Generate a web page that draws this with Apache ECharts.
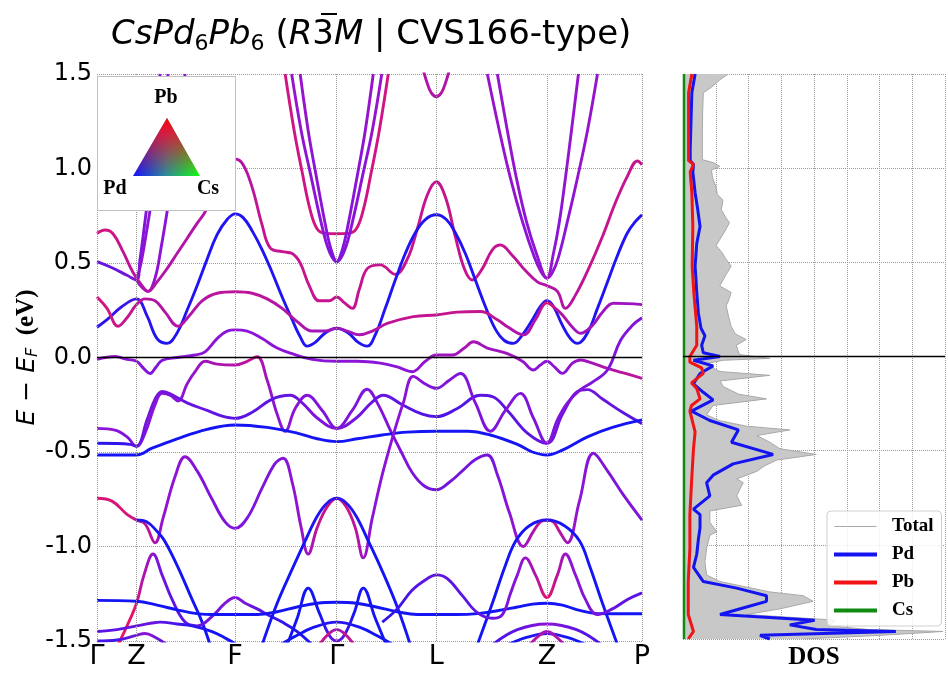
<!DOCTYPE html>
<html><head><meta charset="utf-8">
<script src="https://cdn.jsdelivr.net/npm/echarts@6/dist/echarts.min.js"></script>
<style>html,body{margin:0;padding:0;background:#fff}#c{width:948px;height:675px}</style>
</head><body><div id="c"></div>
<script>
// ---- k-path (distance along path) and labels ----
const kTicks = [0, 39.5, 138, 239.5, 339, 449.5, 544.5];
const kLabels = ['Γ', 'Z', 'F', 'Γ', 'L', 'Z', 'P'];
const eTicks = [-1.5, -1.0, -0.5, 0.0, 0.5, 1.0, 1.5];
const eTickLabels = ['-1.5', '-1.0', '-0.5', '0.0', '0.5', '1.0', '1.5'];
const dosTicks = [0, 1, 2, 3, 4, 5, 6, 7, 8];

// ---- bands: [k, E (eV), Pb weight 0=Pd(blue) .. 1=Pb(red)] ----
const bandZB = [[0,0.507,.35],[15,0.475,.35],[30,0.435,.4],[39.5,0.41,.45],[43,0.52,.45],[47,0.68,.45],[52,0.9,.45],[57,1.15,.45],[63,1.5,.45]];
const bandZC = [[39.5,0.41,.5],[44,0.50,.5],[49,0.65,.5],[55,0.85,.5],[61,1.1,.5],[67,1.35,.5],[71,1.5,.5]];
const bandZE = [[39.5,0.41,.55],[45,0.37,.6],[51,0.35,.6],[58,0.42,.55],[64,0.58,.5],[70,0.77,.5],[76,0.98,.5],[82,1.22,.5],[88,1.5,.5]];
const bandFpeak = [[0,0.657,.85],[8,0.675,.85],[16,0.655,.85],[26,0.56,.8],[36,0.45,.75],[45,0.38,.7],[51,0.35,.7],[60,0.40,.7],[70,0.47,.7],[80,0.55,.7],[90,0.63,.7],[100,0.71,.7],[108,0.77,.7],[118,0.90,.7],[128,1.0,.7],[138,1.05,.7],[146,1.02,.7],[155,0.90,.75],[165,0.70,.8],[173,0.58,.8],[185,0.56,.8],[195,0.55,.8],[203,0.50,.8],[212,0.38,.8],[222,0.30,.8],[232,0.30,.8],[239.5,0.32,.8],[247,0.29,.8],[255,0.26,.8],[262,0.36,.8],[270,0.47,.8],[283,0.49,.8],[298,0.44,.8],[310,0.52,.8],[320,0.68,.8],[330,0.86,.8],[339,0.93,.8],[348,0.85,.8],[358,0.64,.8],[367,0.47,.8],[375,0.41,.8],[385,0.47,.8],[395,0.57,.8],[403,0.595,.8],[415,0.54,.75],[428,0.46,.75],[440,0.40,.7],[449.5,0.38,.7],[460,0.35,.7],[468,0.26,.7],[478,0.33,.75],[492,0.48,.8],[505,0.64,.8],[518,0.82,.8],[530,0.96,.8],[540,1.04,.8],[544.5,1.02,.8]];
const bandBlueTop = [[0,0.16,.1],[10,0.20,.1],[25,0.27,.15],[39.5,0.31,.2],[50,0.22,.1],[60,0.10,.05],[70,0.075,.05],[80,0.13,.05],[90,0.25,.05],[100,0.38,.05],[110,0.52,.05],[120,0.65,.05],[130,0.73,.05],[138,0.76,.05],[146,0.74,.05],[155,0.67,.05],[165,0.57,.05],[175,0.45,.05],[185,0.32,.05],[195,0.20,.05],[203,0.11,.05],[210,0.06,.05],[218,0.08,.05],[228,0.13,.05],[239.5,0.155,.05],[251,0.13,.05],[261,0.08,.05],[270,0.06,.05],[278,0.12,.05],[288,0.26,.05],[298,0.41,.05],[308,0.55,.05],[318,0.66,.05],[328,0.73,.05],[339,0.755,.05],[349,0.73,.05],[358,0.66,.05],[368,0.55,.05],[378,0.41,.05],[388,0.27,.05],[398,0.15,.05],[407,0.09,.05],[416,0.075,.05],[425,0.12,.05],[435,0.20,.05],[443,0.27,.1],[449.5,0.30,.1],[456,0.27,.1],[465,0.17,.05],[473,0.10,.05],[480,0.075,.05],[490,0.13,.05],[500,0.26,.05],[510,0.40,.05],[520,0.54,.05],[530,0.66,.05],[538,0.72,.05],[544.5,0.755,.05]];
const bandPinkMid = [[0,0.32,.85],[10,0.26,.85],[21,0.165,.85],[30,0.21,.8],[39.5,0.28,.8],[48,0.31,.75],[58,0.30,.7],[68,0.24,.7],[81,0.165,.7],[92,0.22,.7],[105,0.30,.7],[120,0.34,.75],[138,0.348,.75],[155,0.34,.75],[170,0.31,.75],[185,0.26,.7],[200,0.19,.7],[215,0.14,.65],[228,0.14,.6],[239.5,0.155,.6],[250,0.14,.6],[262,0.12,.65],[275,0.14,.7],[290,0.18,.75],[316,0.216,.8],[339,0.225,.8],[360,0.24,.8],[383,0.243,.8],[400,0.20,.75],[410,0.163,.7],[426,0.12,.65],[438,0.20,.7],[449.5,0.29,.9],[458,0.26,.75],[465,0.225,.7],[475,0.16,.6],[483,0.128,.6],[495,0.17,.6],[505,0.24,.6],[516,0.287,.6],[530,0.285,.6],[544.5,0.28,.6]];
const bandFermi = [[0,-0.01,.55],[18,0.005,.55],[30,-0.01,.5],[39.5,-0.02,.5],[47,-0.06,.45],[53,-0.085,.45],[59,-0.05,.45],[65,-0.015,.45],[80,0.0,.5],[98,0.013,.5],[108,0.03,.5],[120,0.10,.5],[130,0.14,.5],[138,0.146,.5],[150,0.14,.5],[165,0.10,.5],[180,0.05,.5],[195,0.02,.5],[215,-0.01,.5],[239.5,-0.02,.5],[260,-0.02,.5],[283,-0.03,.5],[300,-0.05,.5],[315,-0.075,.5],[328,-0.02,.55],[339,0.013,.6],[355,0.013,.6],[367,0.05,.65],[376,0.083,.65],[390,0.05,.6],[410,0.02,.6],[425,-0.02,.55],[436,-0.066,.5],[443,-0.04,.5],[449.5,-0.02,.5],[457,-0.05,.5],[465,-0.084,.5],[475,-0.03,.55],[483,-0.013,.6],[495,-0.03,.65],[510,-0.057,.7],[525,-0.08,.75],[544.5,-0.11,.75]];
const bandZigzag = [[0,-0.375,.5],[18,-0.384,.5],[30,-0.42,.45],[39.5,-0.47,.4],[48,-0.40,.45],[58,-0.25,.5],[65,-0.19,.5],[73,-0.20,.5],[81,-0.23,.5],[90,-0.14,.5],[98,-0.075,.55],[108,-0.02,.6],[120,-0.035,.65],[138,-0.04,.7],[150,-0.02,.75],[160,0.004,.8],[170,-0.12,.6],[180,-0.30,.5],[188,-0.39,.5],[198,-0.27,.5],[210,-0.20,.45],[225,-0.28,.45],[239.5,-0.375,.45],[255,-0.28,.45],[270,-0.168,.45],[280,-0.24,.45],[293,-0.384,.45],[304,-0.50,.45],[315,-0.61,.45],[327,-0.68,.4],[339,-0.70,.4],[352,-0.66,.4],[365,-0.60,.4],[378,-0.54,.4],[390,-0.516,.4],[400,-0.62,.45],[412,-0.82,.5],[426,-1.0,.6],[436,-0.92,.7],[443,-0.87,.85],[449.5,-0.86,.95],[456,-0.87,.85],[462,-0.92,.7],[470,-0.98,.6],[482,-0.76,.5],[496,-0.507,.45],[510,-0.6,.45],[525,-0.72,.45],[544.5,-0.86,.45]];
const bandPurpleMid = [[0,-0.454,.1],[20,-0.455,.1],[33,-0.46,.15],[39.5,-0.47,.3],[50,-0.33,.4],[58,-0.22,.4],[65,-0.18,.4],[72,-0.19,.4],[90,-0.24,.35],[110,-0.28,.35],[125,-0.31,.3],[138,-0.322,.3],[155,-0.29,.3],[175,-0.22,.3],[193,-0.20,.35],[205,-0.24,.4],[220,-0.32,.45],[239.5,-0.375,.45],[259,-0.32,.4],[274,-0.24,.35],[286,-0.20,.35],[305,-0.25,.3],[325,-0.30,.25],[339,-0.313,.25],[360,-0.27,.25],[383,-0.20,.3],[395,-0.207,.3],[410,-0.28,.3],[430,-0.40,.3],[449.5,-0.454,.35],[465,-0.30,.4],[480,-0.18,.4],[490,-0.17,.4],[505,-0.22,.35],[525,-0.29,.3],[544.5,-0.35,.3]];
const bandBlueLong = [[0,-0.516,0],[20,-0.516,0],[39.5,-0.516,0],[55,-0.48,0],[80,-0.43,0],[110,-0.38,0],[138,-0.357,0],[170,-0.37,0],[200,-0.40,0],[220,-0.43,0],[239.5,-0.445,0],[260,-0.43,0],[285,-0.41,0],[310,-0.395,0],[339,-0.39,0],[370,-0.39,0],[393,-0.41,0],[420,-0.46,0],[435,-0.50,0],[449.5,-0.516,0],[465,-0.49,0],[490,-0.42,0],[515,-0.37,0],[544.5,-0.33,0]];
const bandPurpleBig = [[0,-0.745,.9],[15,-0.76,.9],[30,-0.83,.9],[39.5,-0.86,.85],[48,-0.88,.8],[58,-0.98,.7],[66,-0.85,.55],[78,-0.63,.5],[88,-0.525,.5],[100,-0.60,.45],[115,-0.75,.45],[128,-0.87,.45],[138,-0.904,.45],[150,-0.85,.45],[165,-0.69,.45],[178,-0.56,.45],[186,-0.533,.45],[195,-0.66,.5],[204,-0.90,.55],[211,-1.04,.6],[220,-0.90,.75],[230,-0.79,.85],[239.5,-0.745,.9],[249,-0.79,.85],[258,-0.90,.75],[266,-1.06,.6],[275,-0.85,.5],[285,-0.62,.5],[296,-0.41,.5],[306,-0.24,.5],[316,-0.10,.5],[328,-0.14,.45],[339,-0.163,.45],[352,-0.12,.45],[363,-0.085,.45],[378,-0.24,.45],[393,-0.39,.45],[408,-0.28,.45],[423,-0.19,.45],[436,-0.32,.45],[449.5,-0.454,.45],[460,-0.33,.45],[470,-0.24,.45],[483,-0.17,.45],[495,-0.13,.45],[510,-0.066,.45],[523,0.09,.45],[535,0.17,.45],[544.5,0.21,.45]];
const bandBlueZdown = [[39.5,-0.86,.1],[50,-0.87,.05],[60,-0.92,0],[67,-0.966,0],[80,-1.1,0],[95,-1.28,0],[105,-1.4,0],[113,-1.52,0]];
const bandRedSteep = [[21,-1.52,1],[30,-1.42,1],[39.5,-1.30,.95],[47,-1.15,.7],[56,-1.04,.55],[65,-1.15,.4],[75,-1.28,.3],[88,-1.40,.3],[100,-1.42,.35],[115,-1.37,.4],[128,-1.30,.45],[138,-1.27,.45],[148,-1.30,.4],[160,-1.33,.3],[172,-1.365,.2],[185,-1.40,.1],[200,-1.45,.05],[215,-1.52,0]];
const bandFlat = [[0,-1.285,0],[39.5,-1.29,0],[60,-1.31,0],[80,-1.335,0],[100,-1.355,0],[120,-1.36,0],[160,-1.36,0],[180,-1.345,0],[200,-1.32,0],[220,-1.30,0],[239.5,-1.295,0],[259,-1.30,0],[279,-1.32,0],[300,-1.345,0],[320,-1.36,0],[360,-1.36,0],[380,-1.355,0],[400,-1.34,0],[420,-1.32,0],[435,-1.305,0],[449.5,-1.30,0],[465,-1.31,0],[480,-1.335,0],[500,-1.355,0],[544.5,-1.356,0]];
const bandArchG = [[165,-1.52,0],[180,-1.3,0],[195,-1.12,0],[208,-0.97,0],[220,-0.84,.05],[230,-0.77,.1],[239.5,-0.745,.15],[249,-0.77,.1],[259,-0.84,.05],[271,-0.97,0],[285,-1.13,0],[300,-1.32,0],[313,-1.52,0]];
const bandArchZ = [[380,-1.52,0],[395,-1.30,0],[408,-1.10,0],[418.5,-0.97,0],[432,-0.89,0],[449.5,-0.86,.1],[467,-0.89,0],[482,-0.97,0],[492,-1.10,0],[505,-1.30,0],[520,-1.52,0]];
const bandLW = [[285,-1.40,.1],[300,-1.33,.15],[315,-1.23,.25],[330,-1.17,.3],[339,-1.15,.3],[350,-1.17,.3],[365,-1.26,.3],[380,-1.35,.3],[395,-1.38,.35],[405,-1.36,.4],[413,-1.25,.45],[420,-1.15,.5],[428,-1.06,.55],[438,-1.15,.7],[449.5,-1.27,.95],[460,-1.15,.7],[468,-1.04,.55],[478,-1.15,.5],[488,-1.28,.45],[500,-1.36,.4],[515,-1.33,.35],[530,-1.28,.3],[544.5,-1.245,.3]];
const bandPeaksG = [[190,-1.52,0],[200,-1.38,0],[211,-1.22,0],[222,-1.35,0],[232,-1.47,.2],[239.5,-1.50,.4],[247,-1.47,.2],[257,-1.35,0],[266,-1.22,0],[278,-1.38,0],[289,-1.52,0]];
const bandArcG1 = [[183,-1.52,0],[200,-1.47,0],[215,-1.43,0],[239.5,-1.40,.1],[264,-1.43,0],[279,-1.47,0],[296,-1.52,0]];
const bandArcZ1 = [[395,-1.52,.2],[420,-1.44,.3],[449.5,-1.41,.5],[479,-1.44,.3],[504,-1.52,.2]];
const bandArcZ2 = [[410,-1.52,0],[430,-1.48,0],[449.5,-1.46,.2],[469,-1.48,0],[489,-1.52,0]];
const bandLow1 = [[0,-1.45,.3],[20,-1.44,.3],[39.5,-1.42,.35],[55,-1.405,.35],[63,-1.40,.3],[80,-1.41,.2],[95,-1.42,.1],[115,-1.45,0],[130,-1.49,0],[140,-1.52,0]];
const bandLow2 = [[0,-1.50,.2],[20,-1.495,.2],[39.5,-1.47,.4],[48,-1.46,.5],[58,-1.48,.4],[70,-1.52,.2]];
const bandPinkG = [[222,-1.52,.8],[232,-1.46,.8],[239.5,-1.44,.6],[247,-1.46,.8],[257,-1.52,.8]];
const bandPinkZ = [[432,-1.52,.7],[442,-1.47,.7],[449.5,-1.45,.6],[457,-1.47,.7],[467,-1.52,.7]];
const bandUG = [[188,1.5,.85],[197,1.2,.85],[205,0.98,.85],[213,0.78,.85],[220,0.68,.85],[228,0.657,.85],[239.5,0.655,.85],[251,0.657,.85],[259,0.68,.85],[266,0.78,.85],[274,0.98,.85],[282,1.2,.85],[291,1.5,.85]];
const bandV1G = [[194.5,1.5,.55],[204,1.2,.55],[212.5,0.99,.5],[226.5,0.657,.5],[233,0.55,.45],[239.5,0.507,.45],[246,0.55,.45],[252.5,0.657,.5],[266.5,0.99,.5],[275,1.2,.55],[284.5,1.5,.55]];
const bandV2G = [[203,1.5,.55],[211,1.2,.55],[218,0.99,.5],[229,0.68,.5],[234.5,0.56,.45],[239.5,0.507,.45],[244.5,0.56,.45],[250,0.68,.5],[261,0.99,.5],[268,1.2,.55],[276,1.5,.55]];
const bandUL = [[326,1.52,.7],[330,1.45,.7],[334,1.40,.7],[339,1.38,.7],[344,1.40,.7],[348,1.45,.7],[352,1.52,.7]];
const bandV1Z = [[390,1.5,.55],[402,1.2,.55],[413,0.95,.55],[425,0.72,.5],[437,0.53,.5],[444,0.45,.55],[449.5,0.42,.6],[455,0.45,.55],[461,0.53,.5],[470,0.72,.5],[480,0.95,.55],[490,1.2,.55],[500,1.5,.55]];
const bandV2Z = [[400,1.5,.55],[410,1.2,.55],[419,0.95,.55],[429,0.72,.5],[439,0.55,.5],[449.5,0.42,.6],[456,0.55,.5],[462,0.72,.5],[468,0.95,.55],[474,1.2,.55],[481,1.5,.55]];

const bands = [bandZB, bandZC, bandZE, bandFpeak, bandBlueTop, bandPinkMid, bandFermi, bandZigzag,
  bandPurpleMid, bandBlueLong, bandPurpleBig, bandBlueZdown, bandRedSteep, bandFlat, bandArchG, bandArchZ,
  bandLW, bandPeaksG, bandArcG1, bandArcZ1, bandArcZ2, bandLow1, bandLow2, bandPinkG, bandPinkZ,
  bandUG, bandV1G, bandV2G, bandUL, bandV1Z, bandV2Z];

// ---- DOS: [E (eV), states] ----
const dosTotal = [[1.50,1.38],[1.47,1.13],[1.43,0.87],[1.40,0.62],[1.30,0.60],[1.20,0.59],[1.10,0.59],[1.045,0.59],[1.03,0.92],[1.01,1.12],[0.99,0.87],[0.95,0.90],[0.90,1.01],[0.86,1.05],[0.83,1.22],[0.78,1.17],[0.74,1.30],[0.71,1.42],[0.66,1.26],[0.62,1.12],[0.59,1.01],[0.55,1.20],[0.52,1.30],[0.48,1.47],[0.43,1.30],[0.375,1.12],[0.34,1.47],[0.30,1.40],[0.27,1.32],[0.22,1.38],[0.16,1.47],[0.12,1.60],[0.09,1.93],[0.06,1.63],[0.03,1.68],[0.01,1.73],[-0.01,2.65],[-0.02,1.23],[-0.04,0.62],[-0.06,0.90],[-0.08,1.13],[-0.10,2.65],[-0.13,1.13],[-0.16,1.23],[-0.20,1.70],[-0.225,2.55],[-0.26,0.92],[-0.31,0.72],[-0.34,1.10],[-0.37,1.94],[-0.39,3.26],[-0.42,2.25],[-0.455,2.65],[-0.49,2.96],[-0.52,4.07],[-0.55,2.86],[-0.58,2.50],[-0.61,2.25],[-0.65,1.64],[-0.67,1.84],[-0.70,1.75],[-0.74,1.64],[-0.79,1.79],[-0.82,0.82],[-0.88,0.82],[-0.93,1.03],[-0.95,0.82],[-1.02,0.72],[-1.09,0.67],[-1.16,0.72],[-1.195,1.13],[-1.25,2.65],[-1.27,3.67],[-1.30,3.97],[-1.34,2.96],[-1.37,1.94],[-1.40,4.68],[-1.43,4.47],[-1.45,5.70],[-1.46,7.94],[-1.48,6.10],[-1.50,3.67]];
const dosPd = [[1.50,0.37],[1.40,0.27],[1.10,0.22],[1.04,0.22],[1.02,0.32],[0.98,0.30],[0.87,0.37],[0.78,0.45],[0.69,0.52],[0.60,0.42],[0.48,0.37],[0.40,0.40],[0.34,0.42],[0.23,0.47],[0.15,0.55],[0.11,0.67],[0.06,0.57],[0.02,0.62],[0.00,1.13],[-0.02,0.32],[-0.05,0.92],[-0.09,0.52],[-0.145,0.32],[-0.19,0.62],[-0.23,0.92],[-0.29,0.26],[-0.34,0.82],[-0.39,1.69],[-0.455,1.48],[-0.52,2.75],[-0.57,1.53],[-0.63,0.92],[-0.67,0.72],[-0.74,0.82],[-0.81,0.32],[-0.84,0.52],[-0.91,0.52],[-0.97,0.47],[-1.05,0.42],[-1.12,0.32],[-1.195,0.62],[-1.23,1.64],[-1.27,2.55],[-1.30,2.55],[-1.33,1.94],[-1.37,1.13],[-1.40,4.02],[-1.425,3.26],[-1.45,4.07],[-1.46,6.50],[-1.48,2.35],[-1.50,2.65]];
const dosPb = [[1.50,0.27],[1.40,0.17],[1.04,0.17],[1.02,0.32],[0.98,0.22],[0.87,0.27],[0.69,0.30],[0.48,0.28],[0.34,0.33],[0.16,0.42],[0.06,0.42],[0.00,0.21],[-0.03,0.21],[-0.06,0.57],[-0.09,0.62],[-0.14,0.26],[-0.17,0.42],[-0.225,0.52],[-0.26,0.26],[-0.29,0.21],[-0.40,0.37],[-0.49,0.32],[-0.67,0.26],[-0.84,0.21],[-1.02,0.21],[-1.195,0.16],[-1.37,0.16],[-1.46,0.32],[-1.50,0.16]];
const dosCs = [[1.50,0.03],[0.0,0.03],[-1.50,0.03]];

function wColor(w) {
  const A = [20, 20, 245], B = [140, 20, 215], C = [235, 20, 95];
  let a, b, t;
  if (w <= 0.5) { a = A; b = B; t = w / 0.5; } else { a = B; b = C; t = (w - 0.5) / 0.5; }
  return 'rgb(' + a.map((v, i) => Math.round(v + (b[i] - v) * t)).join(',') + ')';
}
function gradFor(b) {
  const k0 = b[0][0], k1 = b[b.length - 1][0];
  return { type: 'linear', x: 0, y: 0, x2: 1, y2: 0,
    colorStops: b.map(p => ({ offset: (p[0] - k0) / (k1 - k0), color: wColor(p[2]) })) };
}

const chart = echarts.init(document.getElementById('c'), null, { renderer: 'canvas' });
const dotted = { type: 'dotted', color: '#9a9a9a', width: 1 };

const series = bands.map(b => ({
  type: 'line', xAxisIndex: 0, yAxisIndex: 0, data: b.map(p => [p[0], p[1]]),
  smooth: 0.4, symbol: 'none', silent: true, z: 3,
  lineStyle: { width: 2.9, color: gradFor(b) }
}));

// frame / high-symmetry lines / Fermi level (bands panel)
series.push({
  type: 'line', xAxisIndex: 0, yAxisIndex: 0, data: [[0, 0]], symbol: 'none',
  lineStyle: { opacity: 0 }, silent: true, z: 4,
  markLine: { symbol: 'none', silent: true, label: { show: false }, animation: false,
    data: [
      ...kTicks.map(k => ({ xAxis: k, lineStyle: dotted })),
      { yAxis: 0, lineStyle: { type: 'solid', color: '#000', width: 1.3 } }
    ] }
});

// DOS panel
series.push({
  type: 'custom', xAxisIndex: 1, yAxisIndex: 1, data: [[0, 0]], silent: true, z: 2,
  renderItem: (params, api) => {
    const pts = dosTotal.map(p => api.coord([p[1], p[0]]));
    pts.push(api.coord([0, dosTotal[dosTotal.length - 1][0]]));
    pts.push(api.coord([0, dosTotal[0][0]]));
    return { type: 'polygon', shape: { points: pts }, style: { fill: '#c8c8c8', stroke: null } };
  }
});
series.push({ name: 'Total', type: 'line', xAxisIndex: 1, yAxisIndex: 1, data: dosTotal.map(p => [p[1], p[0]]),
  symbol: 'none', silent: true, z: 3, lineStyle: { color: '#a8a8a8', width: 1 }, itemStyle: { color: '#a8a8a8' } });
series.push({ name: 'Pd', type: 'line', xAxisIndex: 1, yAxisIndex: 1, data: dosPd.map(p => [p[1], p[0]]),
  symbol: 'none', silent: true, z: 4, lineStyle: { color: '#1414f0', width: 3 }, itemStyle: { color: '#1414f0' } });
series.push({ name: 'Pb', type: 'line', xAxisIndex: 1, yAxisIndex: 1, data: dosPb.map(p => [p[1], p[0]]),
  symbol: 'none', silent: true, z: 4, lineStyle: { color: '#f01414', width: 3 }, itemStyle: { color: '#f01414' } });
series.push({ name: 'Cs', type: 'line', xAxisIndex: 1, yAxisIndex: 1, data: dosCs.map(p => [p[1], p[0]]),
  symbol: 'none', silent: true, z: 4, lineStyle: { color: '#108a10', width: 2.5 }, itemStyle: { color: '#108a10' } });
series.push({
  type: 'line', xAxisIndex: 1, yAxisIndex: 1, data: [[0, 0]], symbol: 'none',
  lineStyle: { opacity: 0 }, silent: true, z: 5,
  markLine: { symbol: 'none', silent: true, label: { show: false }, animation: false,
    data: [{ yAxis: 0, lineStyle: { type: 'solid', color: '#000', width: 1.3 } }] }
});

const serif = 'Liberation Serif, Times New Roman, serif';
const thinIcon = 'path://M0,0 L0.01,0 L0.01,0.01 L0,0.01 Z M0,1.5 L42,1.5 L42,2.6 L0,2.6 Z M41.99,3.99 L42,3.99 L42,4 L41.99,4 Z';
const option = {
  animation: false,
  backgroundColor: '#fff',
  title: {
    left: 106, top: 10,
    text: '{i|CsPd}{s|6}{i|Pb}{s|6}{n| (}{i|R}{n|3}{i|M}{n| | CVS166-type)}',
    textStyle: { fontWeight: 'normal', rich: {
      i: { fontFamily: 'DejaVu Sans', fontStyle: 'italic', fontWeight: 'normal', fontSize: 34, color: '#000', lineHeight: 40 },
      n: { fontFamily: 'DejaVu Sans', fontWeight: 'normal', fontSize: 34, color: '#000', lineHeight: 40 },
      s: { fontFamily: 'DejaVu Sans', fontWeight: 'normal', fontSize: 22, color: '#000', lineHeight: 14, verticalAlign: 'bottom' }
    } }
  },
  grid: [
    { left: 97, top: 74, width: 545, height: 567 },
    { left: 683, top: 74, width: 262, height: 567 }
  ],
  xAxis: [
    { type: 'value', gridIndex: 0, min: 0, max: 544.5,
      axisLine: { show: false }, axisTick: { show: false }, splitLine: { show: false },
      axisLabel: { customValues: kTicks, formatter: v => kLabels[kTicks.indexOf(v)] ?? '',
        fontFamily: 'DejaVu Sans', fontSize: 27, color: '#000', margin: 2 } },
    { type: 'value', gridIndex: 1, min: 0, max: 8, interval: 1,
      axisLine: { show: false }, axisTick: { show: false }, axisLabel: { show: false },
      splitLine: { show: true, lineStyle: dotted },
      name: 'DOS', nameLocation: 'middle', nameGap: 6, nameMoveOverlap: false,
      nameTextStyle: { fontFamily: serif, fontWeight: 'bold', fontSize: 25, color: '#000', verticalAlign: 'top' } }
  ],
  yAxis: [
    { type: 'value', gridIndex: 0, min: -1.5, max: 1.5, interval: 0.5,
      axisLine: { show: false }, axisTick: { show: false },
      splitLine: { show: true, lineStyle: dotted },
      axisLabel: { formatter: v => eTickLabels[eTicks.findIndex(t => Math.abs(t - v) < 1e-6)],
        fontFamily: 'DejaVu Sans', fontSize: 24, color: '#000', margin: 5 },
      name: '{i|E − E}{s|F}{b|  (eV)}', nameLocation: 'middle', nameRotate: 90, nameGap: 56,
      nameMoveOverlap: false,
      nameTextStyle: { rich: {
        i: { fontFamily: 'DejaVu Sans', fontStyle: 'italic', fontSize: 25, color: '#000', lineHeight: 28 },
        s: { fontFamily: 'DejaVu Sans', fontStyle: 'italic', fontSize: 16, color: '#000', lineHeight: 12, verticalAlign: 'bottom' },
        b: { fontFamily: serif, fontWeight: 'bold', fontSize: 25, color: '#000', lineHeight: 28 }
      } } },
    { type: 'value', gridIndex: 1, min: -1.5, max: 1.5, interval: 0.5,
      axisLine: { show: false }, axisTick: { show: false }, axisLabel: { show: false },
      splitLine: { show: true, lineStyle: dotted } }
  ],
  legend: {
    data: [
      { name: 'Total', icon: thinIcon },
      { name: 'Pd', icon: 'rect' },
      { name: 'Pb', icon: 'rect' },
      { name: 'Cs', icon: 'rect' }
    ],
    orient: 'vertical', left: 827, top: 511,
    itemWidth: 43, itemHeight: 4, itemGap: 9,
    backgroundColor: 'rgba(255,255,255,0.85)', borderColor: '#d0d0d0', borderWidth: 1, borderRadius: 4,
    padding: [6, 8, 6, 7],
    textStyle: { fontFamily: serif, fontWeight: 'bold', fontSize: 19, color: '#000', padding: [0, 0, 0, 10] },
    selectedMode: false
  },
  graphic: [
    { type: 'rect', z: 100, shape: { x: 97.5, y: 76.5, width: 138, height: 134 },
      style: { fill: '#fff', stroke: '#c0c0c0', lineWidth: 1 } },
    { type: 'polygon', z: 101, shape: { points: [[167, 118], [133, 176], [200, 176]] },
      style: { fill: { type: 'linear', x: 0, y: 0, x2: 1, y2: 0, colorStops: [
        { offset: 0, color: '#1010ff' }, { offset: 0.5, color: '#2a8f9a' }, { offset: 1, color: '#10ff10' }] } } },
    { type: 'polygon', z: 102, shape: { points: [[167, 118], [133, 176], [200, 176]] },
      style: { fill: { type: 'linear', x: 0, y: 0, x2: 0, y2: 1, colorStops: [
        { offset: 0, color: 'rgba(255,0,0,1)' }, { offset: 0.25, color: 'rgba(255,0,40,0.8)' }, { offset: 1, color: 'rgba(255,0,0,0)' }] } } },
    { type: 'text', z: 103, style: { text: 'Pb', x: 166, y: 98, align: 'center', verticalAlign: 'middle',
      font: 'bold 20px "Liberation Serif", serif', fill: '#000' } },
    { type: 'text', z: 103, style: { text: 'Pd', x: 115, y: 189, align: 'center', verticalAlign: 'middle',
      font: 'bold 20px "Liberation Serif", serif', fill: '#000' } },
    { type: 'text', z: 103, style: { text: 'Cs', x: 208, y: 189, align: 'center', verticalAlign: 'middle',
      font: 'bold 20px "Liberation Serif", serif', fill: '#000' } },
    // overbar of the "3" in the space-group symbol
    { type: 'rect', z: 103, shape: { x: 321, y: 13, width: 16, height: 2 }, style: { fill: '#000' } }
  ],
  series: series
};
chart.setOption(option);
</script>
</body></html>
